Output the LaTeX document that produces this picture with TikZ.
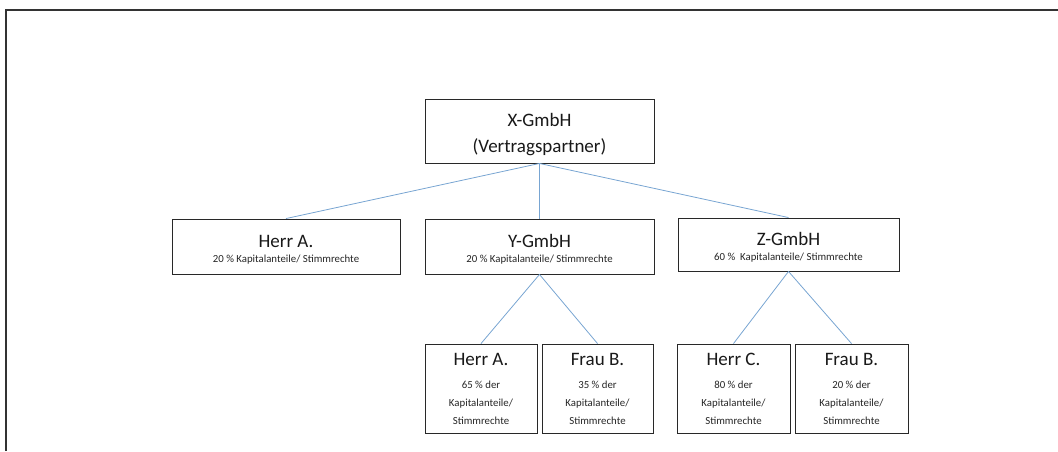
\documentclass[tikz,border=0pt]{standalone}
\usepackage{fontspec}
\setmainfont{Carlito}
\definecolor{linkblue}{RGB}{120,165,210}
\definecolor{boxgray}{RGB}{40,40,40}
\tikzset{
  x=1pt, y=-1pt,
  orgbox/.style={draw=boxgray, line width=0.9pt, inner sep=0pt, fill=white},
  link/.style={draw=linkblue, line width=0.8pt},
  big/.style={inner sep=0pt, anchor=base, font=\fontsize{19}{19}\selectfont, text=black!90},
  small/.style={inner sep=0pt, anchor=base, font=\fontsize{10.8}{11}\selectfont, text=black!85},
  frame/.style={draw=black!80, line width=1.3pt}
}
\begin{document}
\begin{tikzpicture}
\useasboundingbox (0,0) rectangle (1058,451);
\coordinate (fbl) at (6,451);
\coordinate (ftl) at (6,10);
\coordinate (ftr) at (1058,10);
\draw[frame] (fbl) -- (ftl) -- (ftr);

% boxes
\node[orgbox, minimum width=229pt, minimum height=64pt] (xg) at (539.5,131) {};
\node[orgbox, minimum width=228pt, minimum height=55pt] (ha) at (286,246.5) {};
\node[orgbox, minimum width=229pt, minimum height=55pt] (yg) at (539.5,246.5) {};
\node[orgbox, minimum width=221pt, minimum height=53pt] (zg) at (788.5,244.5) {};
\node[orgbox, minimum width=112pt, minimum height=89pt] (ya) at (481,388.5) {};
\node[orgbox, minimum width=111pt, minimum height=89pt] (yb) at (597.5,388.5) {};
\node[orgbox, minimum width=113pt, minimum height=89pt] (zc) at (733.5,388.5) {};
\node[orgbox, minimum width=113pt, minimum height=89pt] (zb) at (851.5,388.5) {};

% connectors
\draw[link] (xg.south) -- (ha.north);
\draw[link] (xg.south) -- (yg.north);
\draw[link] (xg.south) -- (zg.north);
\draw[link] (yg.south) -- (ya.north);
\draw[link] (yg.south) -- (yb.north);
\draw[link] (zg.south) -- (zc.north);
\draw[link] (zg.south) -- (zb.north);

% texts
\node[big] (t1) at (539.5,126) {X-GmbH};
\node[big] (t2) at (539.5,152) {(Vertragspartner)};

\node[big] (t3) at (286,247) {Herr A.};
\node[small] (t4) at (286,262) {20 \% Kapitalanteile/ Stimmrechte};

\node[big] (t5) at (539.5,247) {Y-GmbH};
\node[small] (t6) at (539.5,262) {20 \% Kapitalanteile/ Stimmrechte};

\node[big] (t7) at (788.5,245) {Z-GmbH};
\node[small] (t8) at (788.5,260) {60 \%\ \ Kapitalanteile/ Stimmrechte};

\node[big] (a1) at (481,365) {Herr A.};
\node[small] (a2) at (481,388) {65 \% der};
\node[small] (a3) at (481,406) {Kapitalanteile/};
\node[small] (a4) at (481,424) {Stimmrechte};

\node[big] (b1) at (597.5,365) {Frau B.};
\node[small] (b2) at (597.5,388) {35 \% der};
\node[small] (b3) at (597.5,406) {Kapitalanteile/};
\node[small] (b4) at (597.5,424) {Stimmrechte};

\node[big] (c1) at (733.5,365) {Herr C.};
\node[small] (c2) at (733.5,388) {80 \% der};
\node[small] (c3) at (733.5,406) {Kapitalanteile/};
\node[small] (c4) at (733.5,424) {Stimmrechte};

\node[big] (d1) at (851.5,365) {Frau B.};
\node[small] (d2) at (851.5,388) {20 \% der};
\node[small] (d3) at (851.5,406) {Kapitalanteile/};
\node[small] (d4) at (851.5,424) {Stimmrechte};
\end{tikzpicture}
\end{document}
